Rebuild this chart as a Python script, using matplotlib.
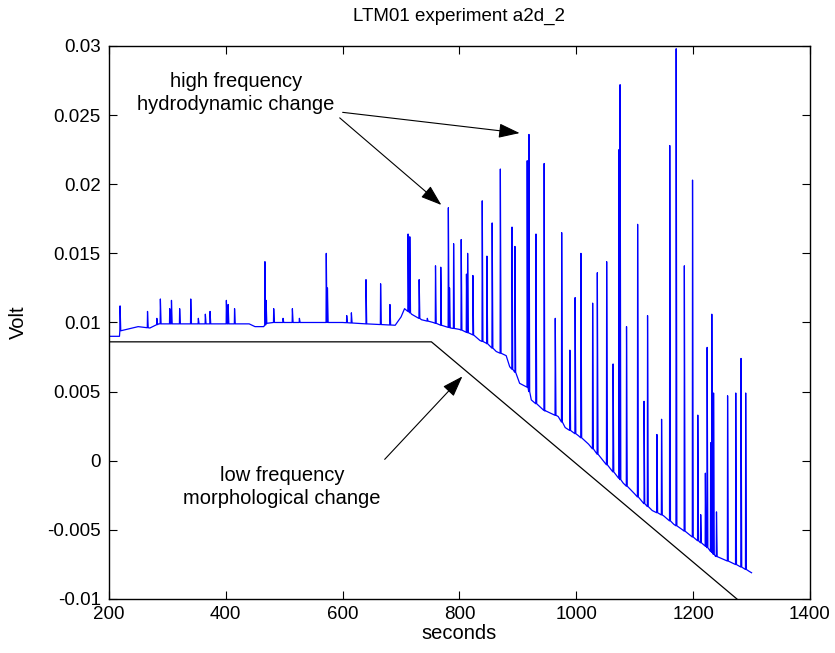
import numpy as np
import matplotlib
matplotlib.use("Agg")
from matplotlib import pyplot as plt
from matplotlib import ticker

plt.rcParams["font.family"] = ["Liberation Sans", "DejaVu Sans"]
plt.rcParams["axes.unicode_minus"] = False

# slow baseline of the probe signal (seconds, volt)
base_t = [200, 218, 220, 250, 270, 285, 440, 450, 465, 470, 600, 640, 690,
          700, 706, 718, 735, 755, 768, 785, 800, 823, 835, 846, 863, 880,
          886, 895, 903, 917, 923, 946, 969, 981, 1004, 1021, 1050, 1080,
          1100, 1116, 1130, 1150, 1167, 1182, 1205, 1222, 1238, 1256, 1278,
          1296, 1300]
base_v = [0.0090, 0.0090, 0.0098, 0.0097, 0.0096, 0.0099, 0.0099, 0.0097,
          0.0097, 0.0100, 0.0100, 0.0099, 0.0098, 0.0104, 0.0110, 0.0106,
          0.0102, 0.0100, 0.0098, 0.0096, 0.0095, 0.0091, 0.0087, 0.0085,
          0.0079, 0.0076, 0.0068, 0.0064, 0.0056, 0.0053, 0.0044, 0.0036,
          0.0032, 0.0024, 0.0018, 0.0012, -0.0002, -0.0016, -0.0024,
          -0.0031, -0.0036, -0.0040, -0.0046, -0.0050, -0.0057, -0.0062,
          -0.0069, -0.0072, -0.0076, -0.0080, -0.0081]

# spikes (time, peak value)
spike_t = [219, 266, 282, 288, 304, 307, 321, 340, 353, 365, 373, 401, 404,
           415, 467, 469, 482, 498, 514, 526, 572, 574, 607, 615, 640, 665,
           681, 712, 715, 731, 745, 759, 768, 781, 783, 790, 803, 812, 814,
           823, 839, 847, 856, 870, 890, 895, 916, 919, 931, 945, 964, 975,
           989, 998, 1008, 1028, 1036, 1052, 1063, 1073, 1075, 1086, 1105,
           1116, 1122, 1138, 1146, 1160, 1171, 1185, 1199, 1208, 1213, 1221,
           1224, 1230, 1232, 1235, 1240, 1259, 1273, 1282, 1290]
spike_v = [0.0112, 0.0108, 0.0103, 0.0117, 0.0110, 0.0116, 0.0110, 0.0117,
           0.0103, 0.0106, 0.0108, 0.0116, 0.0113, 0.0110, 0.0144, 0.0116,
           0.0110, 0.0103, 0.0110, 0.0103, 0.0150, 0.0125, 0.0105, 0.0107,
           0.0131, 0.0128, 0.0113, 0.0164, 0.0162, 0.0131, 0.0103, 0.0141,
           0.0140, 0.0183, 0.0125, 0.0157, 0.0160, 0.0135, 0.0150, 0.0134,
           0.0188, 0.0148, 0.0172, 0.0211, 0.0169, 0.0155, 0.0217, 0.0236,
           0.0164, 0.0215, 0.0103, 0.0165, 0.0080, 0.0118, 0.0150, 0.0114,
           0.0136, 0.0144, 0.0070, 0.0225, 0.0272, 0.0097, 0.0171, 0.0043,
           0.0105, 0.0019, 0.0030, 0.0228, 0.0298, 0.0141, 0.0203, 0.0033,
           -0.0039, -0.0009, 0.0082, 0.0013, 0.0106, 0.0049, -0.0037, 0.0047,
           0.0049, 0.0074, 0.0049]

# trend line drawn by hand on the figure
trend_t = [200, 752, 1275]
trend_v = [0.0086, 0.0086, -0.0100]

# build the signal: baseline with the spikes sitting on it
st = np.array(spike_t, float)
sv = np.array(spike_v, float)
foot = np.interp(st, base_t, base_v)
xs = np.concatenate([base_t, st - 0.4, st, st + 1.2])
ys = np.concatenate([base_v, foot, sv, foot])
order = np.argsort(xs, kind="stable")
xs, ys = xs[order], ys[order]

fig = plt.figure(figsize=(8.35, 6.53), dpi=100)
ax = fig.add_axes([0.1305, 0.0827, 0.8395, 0.8469])

ax.plot(xs, ys, color=(0, 0, 1), lw=0.9)
ax.plot(trend_t, trend_v, color="black", lw=0.9)

ax.set_xlim(200, 1400)
ax.set_ylim(-0.01, 0.03)
ax.xaxis.set_major_locator(ticker.MultipleLocator(200))
ax.yaxis.set_major_locator(ticker.MultipleLocator(0.005))
ax.yaxis.set_major_formatter(ticker.FuncFormatter(lambda v, p: "%g" % round(v, 4)))
ax.tick_params(direction="in", top=True, right=True, length=6, width=0.8,
               labelsize=13.5)
ax.tick_params(axis="y", pad=6)
ax.tick_params(axis="x", pad=5)
for s in ax.spines.values():
    s.set_linewidth(1.0)

ax.set_title("LTM01 experiment a2d_2", fontsize=13.5, pad=18)
ax.set_xlabel("seconds", fontsize=14.5, labelpad=1)
ax.set_ylabel("Volt", fontsize=14.5, labelpad=14)

arrow = dict(arrowstyle="-|>,head_length=1.3,head_width=0.45", color="black",
             lw=0.8, shrinkA=0, shrinkB=0)
ax.text(417, 0.0266, "high frequency\nhydrodynamic change", ha="center",
        va="center", fontsize=14.5, linespacing=1.25)
ax.annotate("", xy=(769, 0.0185), xytext=(595, 0.0248), arrowprops=arrow)
ax.annotate("", xy=(903, 0.0237), xytext=(600, 0.0252), arrowprops=arrow)
ax.text(496, -0.0019, "low frequency\nmorphological change", ha="center",
        va="center", fontsize=14.5, linespacing=1.25)
ax.annotate("", xy=(805, 0.0061), xytext=(672, 0.0001), arrowprops=arrow)

fig.savefig("out.png", dpi=100)
